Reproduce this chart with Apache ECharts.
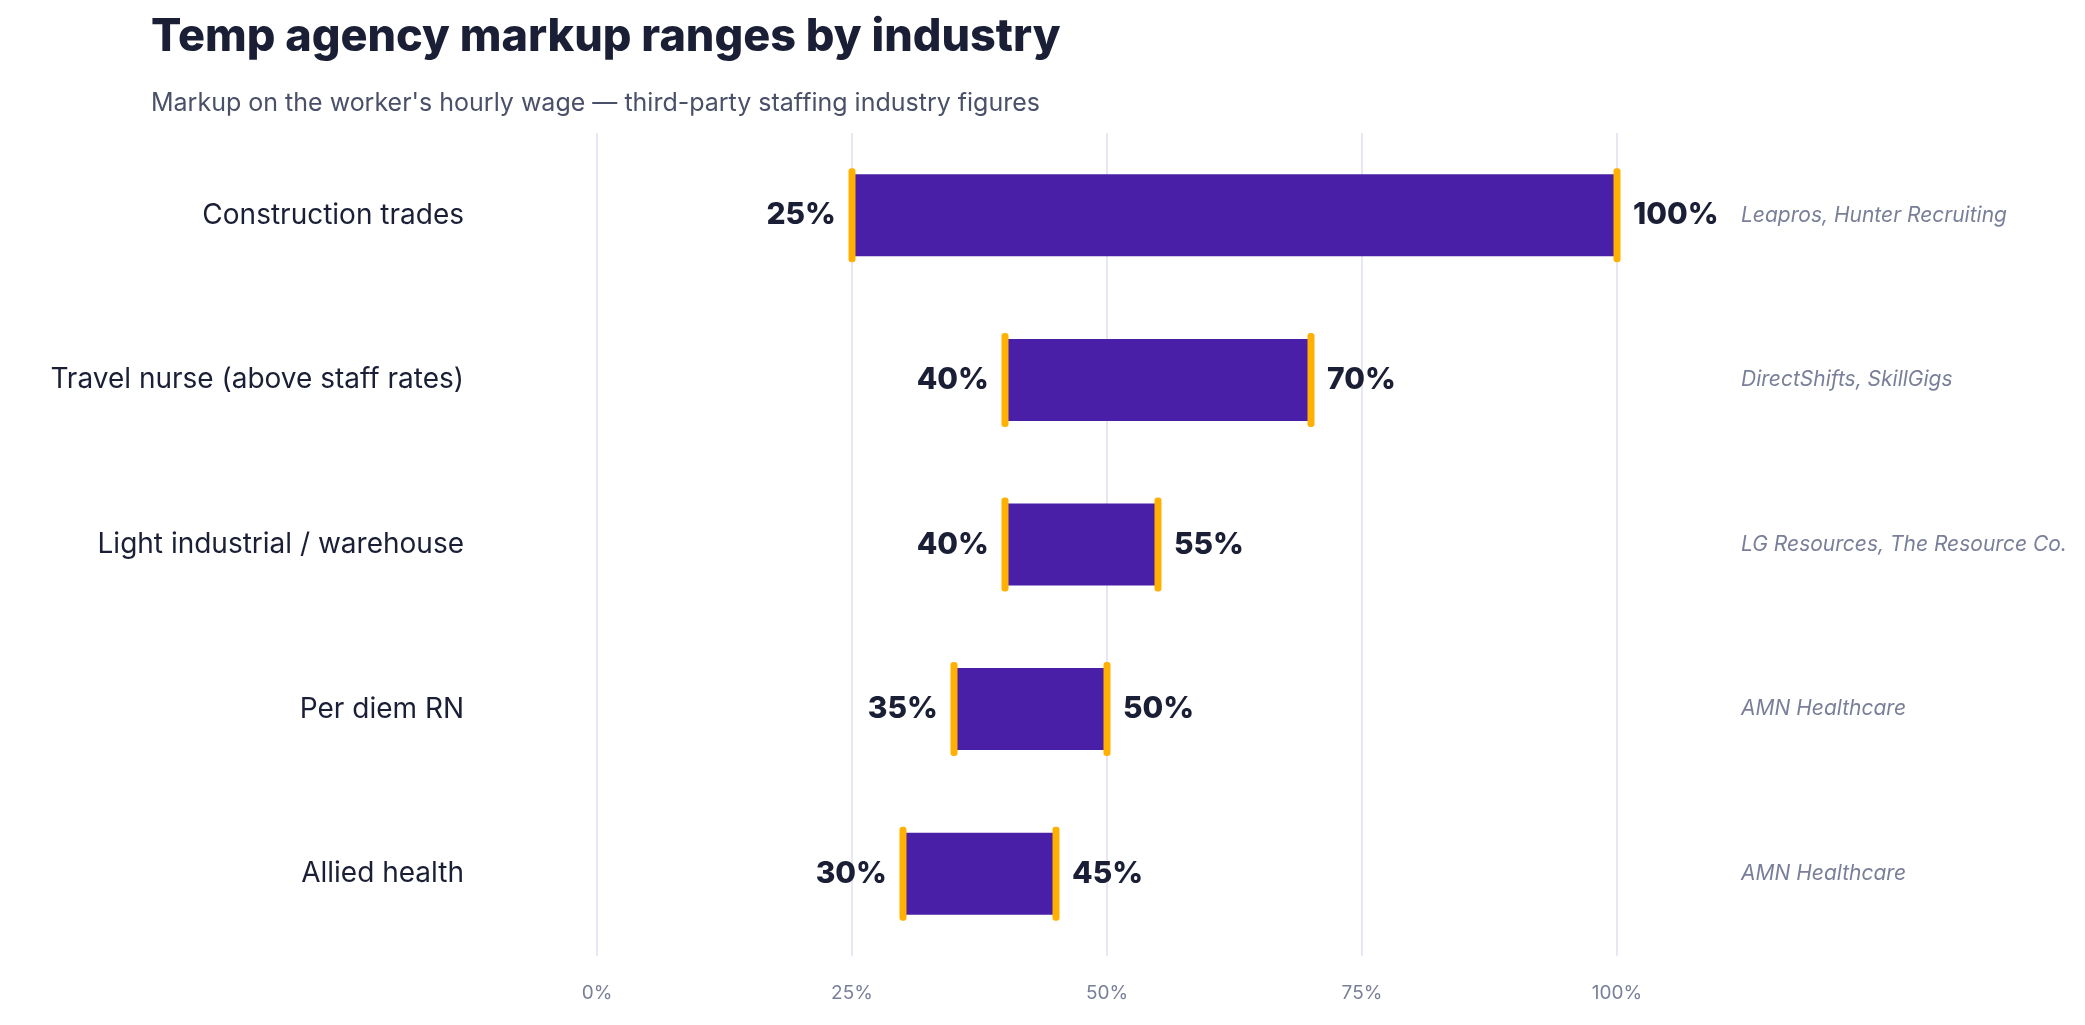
<!DOCTYPE html>
<html>
<head>
<meta charset="utf-8">
<script src="https://cdn.jsdelivr.net/npm/echarts@6/dist/echarts.min.js"></script>
<style>html,body{margin:0;padding:0;background:#fff}#main{width:2085px;height:1025px}</style>
</head>
<body>
<div id="main"></div>
<script>
const categories = ['Construction trades', 'Travel nurse (above staff rates)', 'Light industrial / warehouse', 'Per diem RN', 'Allied health'];
const lowValues = [25, 40, 40, 35, 30];
const highValues = [100, 70, 55, 50, 45];
const sources = ['Leapros, Hunter Recruiting', 'DirectShifts, SkillGigs', 'LG Resources, The Resource Co.', 'AMN Healthcare', 'AMN Healthcare'];
const xTicks = [0, 25, 50, 75, 100];

const font = 'Inter, "Noto Sans", sans-serif';
const chart = echarts.init(document.getElementById('main'));

chart.setOption({
  animation: false,
  title: [
    { text: 'Temp agency markup ranges by industry', left: 146, top: 10,
      textStyle: { fontFamily: font, fontSize: 45, fontWeight: 800, color: '#1a1f36' } },
    { text: "Markup on the worker's hourly wage — third-party staffing industry figures", left: 146, top: 86,
      textStyle: { fontFamily: font, fontSize: 25, fontWeight: 400, color: '#4a5068' } }
  ],
  grid: { left: 597, right: 468, top: 133, bottom: 69 },
  xAxis: {
    type: 'value', min: 0, max: 100, interval: 25,
    axisLine: { show: false }, axisTick: { show: false },
    splitLine: { lineStyle: { color: '#e0def0', width: 1.5 } },
    axisLabel: { formatter: v => xTicks.includes(v) ? v + '%' : '', fontFamily: font, fontSize: 19, color: '#7a7f99', margin: 28 }
  },
  yAxis: {
    type: 'category', data: categories, inverse: true,
    axisLine: { show: false }, axisTick: { show: false },
    axisLabel: { fontFamily: font, fontSize: 28, color: '#1a1f36', margin: 133 }
  },
  series: [{
    type: 'custom',
    data: categories.map((c, i) => [i, lowValues[i], highValues[i]]),
    encode: { x: [1, 2], y: 0 },
    renderItem: function (params, api) {
      const i = api.value(0);
      const p0 = api.coord([api.value(1), i]);
      const p1 = api.coord([api.value(2), i]);
      const h = 82, capH = 94, capW = 7;
      const y = p0[1];
      return {
        type: 'group',
        children: [
          { type: 'rect', shape: { x: p0[0], y: y - h / 2, width: p1[0] - p0[0], height: h },
            style: { fill: '#4a1fa8' } },
          { type: 'rect', shape: { x: p0[0] - capW / 2, y: y - capH / 2, width: capW, height: capH, r: 3 },
            style: { fill: '#ffb000' } },
          { type: 'rect', shape: { x: p1[0] - capW / 2, y: y - capH / 2, width: capW, height: capH, r: 3 },
            style: { fill: '#ffb000' } },
          { type: 'text', x: p0[0] - 16, y: y,
            style: { text: api.value(1) + '%', align: 'right', verticalAlign: 'middle',
              font: '800 30px ' + font, fill: '#1a1f36' } },
          { type: 'text', x: p1[0] + 16, y: y,
            style: { text: api.value(2) + '%', align: 'left', verticalAlign: 'middle',
              font: '800 30px ' + font, fill: '#1a1f36' } },
          { type: 'text', x: 1741, y: y,
            style: { text: sources[i], align: 'left', verticalAlign: 'middle',
              font: 'italic 21px ' + font, fill: '#7a7f99' } }
        ]
      };
    }
  }]
});
</script>
</body>
</html>
